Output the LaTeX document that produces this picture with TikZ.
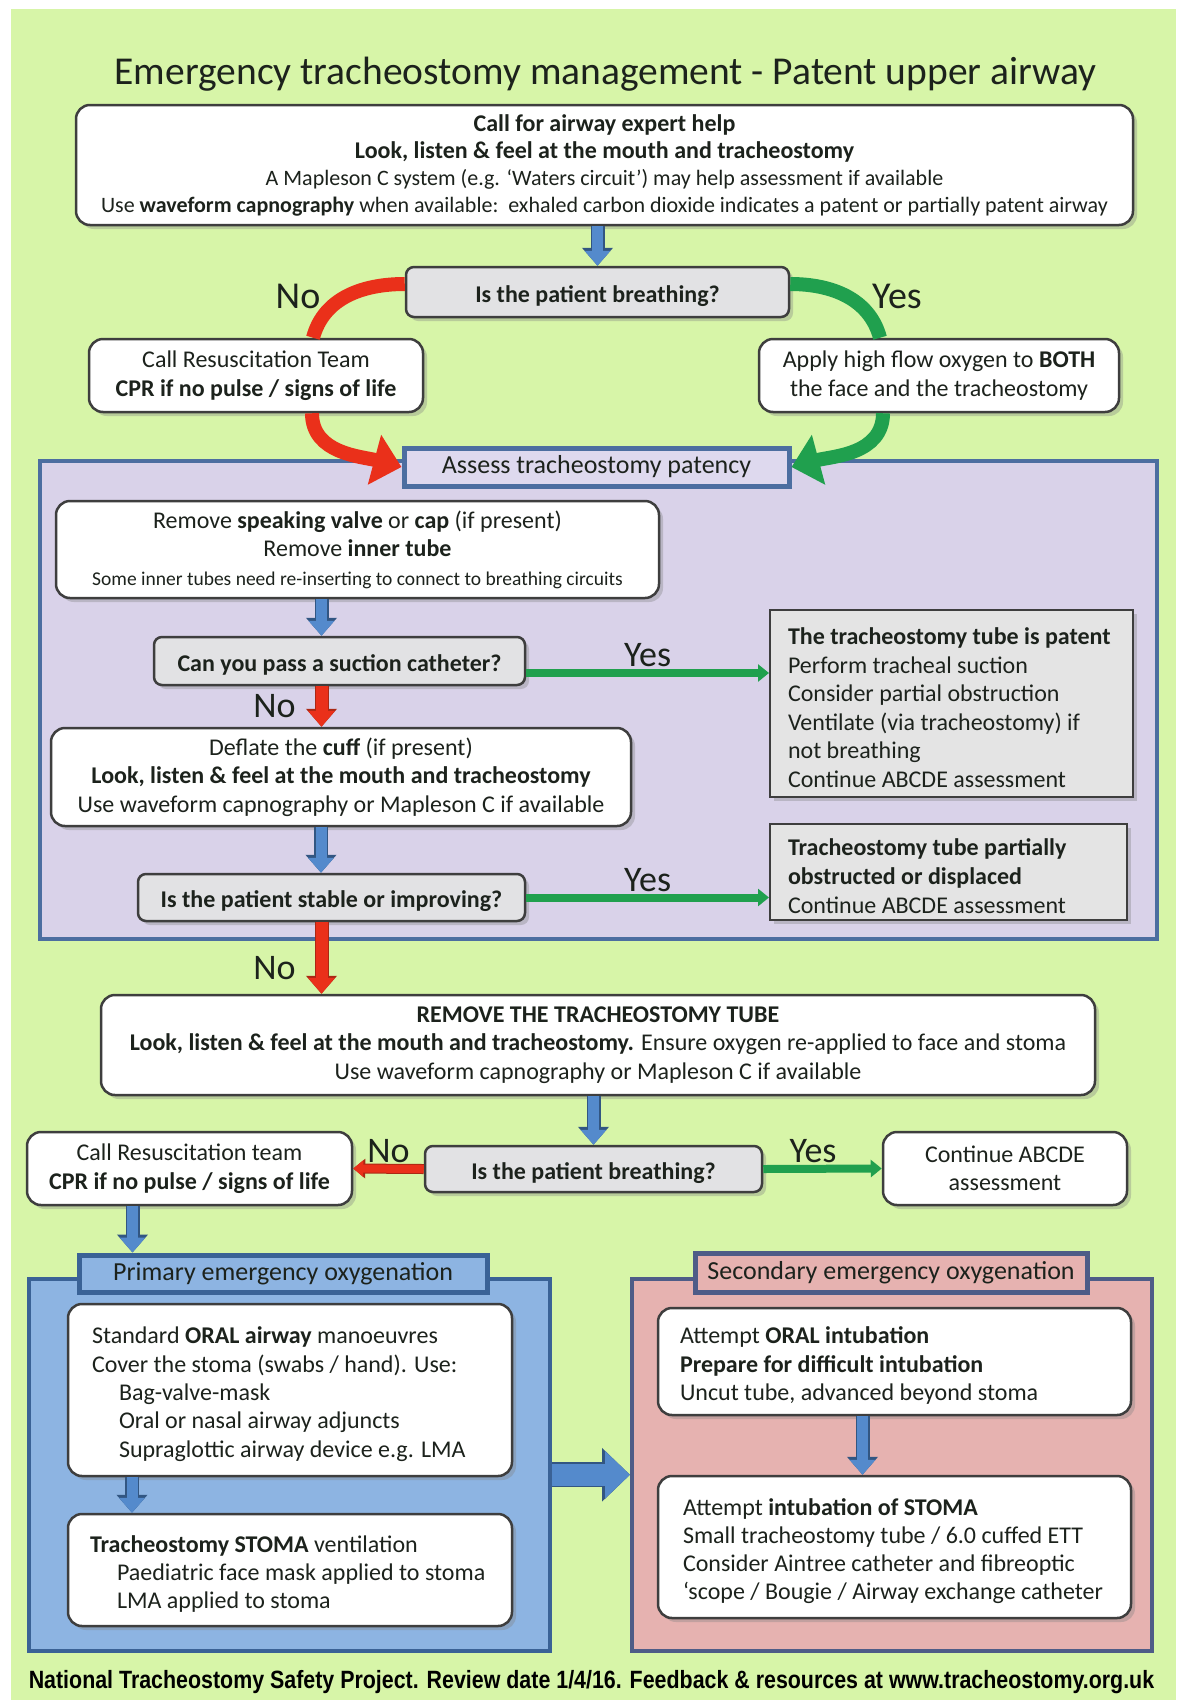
\documentclass[tikz,border=0pt]{standalone}
\usepackage{fontspec}
\setmainfont{Carlito}
\newfontfamily\footfont{Liberation Sans}
\usetikzlibrary{arrows.meta,positioning,shadows}

\definecolor{bggreen}{RGB}{215,245,168}
\definecolor{boxline}{RGB}{62,62,62}
\definecolor{qgray}{RGB}{226,226,228}
\definecolor{notegray}{RGB}{228,228,228}
\definecolor{lav}{RGB}{217,210,233}
\definecolor{lavhead}{RGB}{222,217,238}
\definecolor{panblue}{RGB}{76,110,160}
\definecolor{primfill}{RGB}{141,180,226}
\definecolor{primline}{RGB}{58,98,150}
\definecolor{secfill}{RGB}{230,178,176}
\definecolor{secline}{RGB}{78,92,135}
\definecolor{arrblue}{RGB}{84,138,204}
\definecolor{arrblueline}{RGB}{50,86,130}
\definecolor{arrred}{RGB}{234,48,26}
\definecolor{arrredline}{RGB}{170,40,20}
\definecolor{arrgreen}{RGB}{32,160,78}
\definecolor{inkcol}{RGB}{28,34,28}

\begin{document}
\begin{tikzpicture}[x=1pt,y=-1pt,
  txt/.style={font=\fontsize{24}{28.5}\selectfont},
  box/.style={rectangle,draw=boxline,line width=2.5pt,fill=white,rounded corners=14pt,align=center,inner sep=0pt,text=inkcol,drop shadow={shadow xshift=4pt,shadow yshift=-4pt,opacity=.35},txt,execute at begin node={\rule{0pt}{25pt}}},
  leftbox/.style={box,align=left,font=\fontsize{24}{28.3}\selectfont,execute at begin node={\spaceskip=0pt\xspaceskip=0pt\relax\rule{0pt}{25pt}}},
  question/.style={box,fill=qgray,rounded corners=8pt,execute at begin node={}},
  note/.style={rectangle,draw=boxline,line width=2pt,fill=notegray,align=left,inner xsep=18pt,inner ysep=0pt,text=inkcol,drop shadow={shadow xshift=4pt,shadow yshift=-4pt,opacity=.35},font=\fontsize{24}{28.6}\selectfont,execute at begin node={\spaceskip=0pt\xspaceskip=0pt\relax\rule{0pt}{25pt}}},
  panelbox/.style={rectangle,line width=4pt,inner sep=0pt},
  headbox/.style={rectangle,line width=5pt,inner sep=0pt,text=inkcol,font=\fontsize{26}{30}\selectfont},
  lbl/.style={text=inkcol,font=\fontsize{36}{38}\selectfont,inner sep=2pt},
  bluearrow/.style={draw=arrblue,line width=11pt,-{Triangle[width=25pt,length=15pt]},preaction={draw=arrblueline,line width=14pt,-{Triangle[width=30pt,length=18pt]}}},
  redarrow/.style={draw=arrred,line width=12pt,-{Triangle[width=26pt,length=16pt]},preaction={draw=arrredline,line width=14pt,-{Triangle[width=30pt,length=18pt]}}},
  redthin/.style={draw=arrred,line width=8pt,-{Triangle[width=16pt,length=10pt]},preaction={draw=arrredline,line width=10pt,-{Triangle[width=19pt,length=12pt]}}},
  greenarrow/.style={draw=arrgreen,line width=8pt,-{Triangle[width=17pt,length=11pt]}},
  redarc/.style={draw=arrred,line width=14pt},
  greenarc/.style={draw=arrgreen,line width=14pt}]

\fill[white] (0,0) rectangle (1176,1700);
\fill[bggreen] (11,9) rectangle (1176,1700);
\useasboundingbox (0,0) rectangle (1176,1700);

\node[text=inkcol,font=\fontsize{39.5}{48}\selectfont] (title) at (605.5,74) {Emergency tracheostomy management - Patent upper airway};

\node[box,minimum width=1057pt,minimum height=120pt,font=\fontsize{24}{27}\selectfont] (top) at (604.5,165) {\textbf{Call for airway expert help}\\ \textbf{Look, listen \& feel at the mouth and tracheostomy}\\ {\fontsize{22}{27}\selectfont A Mapleson C system (e.g. ‘Waters circuit’) may help assessment if available}\\ {\fontsize{22}{27}\selectfont Use \textbf{waveform capnography} when available:\ \ exhaled carbon dioxide indicates a patent or partially patent airway}};

\node[question,minimum width=383pt,minimum height=50pt] (q1) at (597.5,292) {\textbf{Is the patient breathing?}};
\node[box,minimum width=334pt,minimum height=73pt] (resus1) at (256,375.5) {Call Resuscitation Team\\ \textbf{CPR if no pulse / signs of life}};
\node[box,minimum width=360pt,minimum height=73pt] (oxy) at (939,375.5) {Apply high flow oxygen to \textbf{BOTH}\\ the face and the tracheostomy};

\node[panelbox,draw=panblue,fill=lav,minimum width=1117pt,minimum height=478pt] (patency) at (598.5,700) {};
\node[headbox,draw=panblue,fill=lavhead,minimum width=385pt,minimum height=38pt] (assess) at (596.5,467) {Assess tracheostomy patency};

\node[box,minimum width=603pt,minimum height=97pt] (valve) at (357.5,549.5) {Remove \textbf{speaking valve} or \textbf{cap} (if present)\\ Remove \textbf{inner tube}\\ {\fontsize{19.5}{28.5}\selectfont Some inner tubes need re-inserting to connect to breathing circuits}};
\node[question,minimum width=371pt,minimum height=48pt] (suction) at (339.5,661) {\textbf{Can you pass a suction catheter?}};
\node[note,text width=327pt,minimum height=187pt] (patent) at (951.5,703.5) {\textbf{The tracheostomy tube is patent}\\ Perform tracheal suction\\ Consider partial obstruction\\ Ventilate (via tracheostomy) if\\ not breathing\\ Continue ABCDE assessment};
\node[box,minimum width=580pt,minimum height=98pt] (deflate) at (341,777) {Deflate the \textbf{cuff} (if present)\\ \textbf{Look, listen \& feel at the mouth and tracheostomy}\\ Use waveform capnography or Mapleson C if available};
\node[question,minimum width=387pt,minimum height=47pt] (stable) at (331.5,897.5) {\textbf{Is the patient stable or improving?}};
\node[note,text width=321pt,minimum height=96pt] (partial) at (948.5,872) {\textbf{Tracheostomy tube partially}\\ \textbf{obstructed or displaced}\\ Continue ABCDE assessment};

\node[box,minimum width=994pt,minimum height=100pt] (remove) at (598,1045) {\textbf{REMOVE THE TRACHEOSTOMY TUBE}\\ \textbf{Look, listen \& feel at the mouth and tracheostomy.} Ensure oxygen re-applied to face and stoma\\ Use waveform capnography or Mapleson C if available};
\node[question,minimum width=337pt,minimum height=46pt] (q2) at (593.5,1169) {\textbf{Is the patient breathing?}};
\node[box,minimum width=325pt,minimum height=73pt] (resus2) at (189.5,1168.5) {Call Resuscitation team\\ \textbf{CPR if no pulse / signs of life}};
\node[box,minimum width=244pt,minimum height=73pt] (abcde) at (1005,1168.5) {Continue ABCDE\\ assessment};

\node[panelbox,draw=primline,fill=primfill,minimum width=521pt,minimum height=372pt] (prim) at (289.5,1465) {};
\node[headbox,draw=primline,fill=primfill,minimum width=408pt,minimum height=37pt] (primhead) at (283,1273.5) {Primary emergency oxygenation};
\node[leftbox,text width=396pt,inner xsep=24pt,minimum height=172pt] (oral) at (290,1390) {Standard \textbf{ORAL airway} manoeuvres\\ Cover the stoma (swabs / hand). Use:\\ \hspace*{27pt}Bag-valve-mask\\ \hspace*{27pt}Oral or nasal airway adjuncts\\ \hspace*{27pt}Supraglottic airway device e.g. LMA};
\node[leftbox,text width=400pt,inner xsep=22pt,minimum height=112pt] (stoma) at (290,1570) {\textbf{Tracheostomy STOMA} ventilation\\ \hspace*{27pt}Paediatric face mask applied to stoma\\ \hspace*{27pt}LMA applied to stoma};

\node[panelbox,draw=secline,fill=secfill,minimum width=520pt,minimum height=372pt] (sec) at (892,1465) {};
\node[headbox,draw=secline,fill=secfill,minimum width=392pt,minimum height=39pt] (sechead) at (891,1272.5) {Secondary emergency oxygenation};
\node[leftbox,text width=429pt,inner xsep=22pt,minimum height=107pt] (intub) at (894.5,1361.5) {Attempt \textbf{ORAL intubation}\\ \textbf{Prepare for difficult intubation}\\ Uncut tube, advanced beyond stoma};
\node[leftbox,text width=423pt,inner xsep=25pt,minimum height=142pt] (stomaint) at (894.5,1547) {Attempt \textbf{intubation of STOMA}\\ Small tracheostomy tube / 6.0 cuffed ETT\\ Consider Aintree catheter and fibreoptic\\ ‘scope / Bougie / Airway exchange catheter};

\node[font=\footfont\bfseries\fontsize{25}{28}\selectfont] (footer) at (591.5,1682) {\scalebox{0.856}[1]{National Tracheostomy Safety Project. Review date 1/4/16. Feedback \& resources at www.tracheostomy.org.uk}};

\node[lbl,font=\fontsize{38}{40}\selectfont] (nolbl) at (298,296) {No};
\node[lbl,font=\fontsize{38}{40}\selectfont] (yeslbl) at (897,296) {Yes};

\draw[bluearrow] (top.south -| q1.north) -- (q1.north);
\draw[redarc] ([yshift=8pt]q1.west) to[out=180,in=75] ([xshift=57pt]resus1.north);
\draw[redarc,-{Triangle[width=50pt,length=28pt]}] ([xshift=56pt]resus1.south) to[out=-90,in=165] (assess.west);
\draw[greenarc] ([yshift=8pt]q1.east) to[out=0,in=105] ([xshift=-59pt]oxy.north);
\draw[greenarc,-{Triangle[width=50pt,length=28pt]}] ([xshift=-56pt]oxy.south) to[out=-90,in=15] (assess.east);

\draw[bluearrow] ([xshift=-36pt]valve.south) -- ([xshift=-36pt]valve.south |- suction.north);
\draw[greenarrow] ([yshift=-12pt]suction.east) -- node[lbl,above]{Yes} ([yshift=-12pt]suction.east -| patent.west);
\draw[redarrow] ([xshift=-18pt]suction.south) -- node[lbl,left=18pt]{No} ([xshift=-18pt]suction.south |- deflate.north);
\draw[bluearrow] ([xshift=-20pt]deflate.south) -- ([xshift=-20pt]deflate.south |- stable.north);
\draw[greenarrow] (stable.east) -- node[lbl,above]{Yes} (stable.east -| partial.west);
\draw[redarrow] ([xshift=-10pt]stable.south) -- node[lbl,left=18pt,pos=.64]{No} ([xshift=-10pt]stable.south |- remove.north);

\draw[bluearrow] (remove.south -| q2.north) -- (q2.north);
\draw[redthin] (q2.west) -- node[lbl,above]{No} (resus2.east);
\draw[greenarrow] (q2.east) -- node[lbl,above,pos=.42]{Yes} (abcde.west);
\draw[bluearrow] ([xshift=-57pt]resus2.south) -- ([xshift=-57pt]resus2.south |- primhead.north);
\draw[bluearrow] ([xshift=-158pt]oral.south) -- ([xshift=-158pt]oral.south |- stoma.north);
\draw[bluearrow] ([xshift=-32pt]intub.south) -- ([xshift=-32pt]intub.south |- stomaint.north);
\draw[draw=arrblue,line width=22pt,-{Triangle[width=46pt,length=25pt]},preaction={draw=arrblueline,line width=25pt,-{Triangle[width=52pt,length=28pt]}}] (prim.east |- stomaint.north) -- (sec.west |- stomaint.north);
\end{tikzpicture}
\end{document}
